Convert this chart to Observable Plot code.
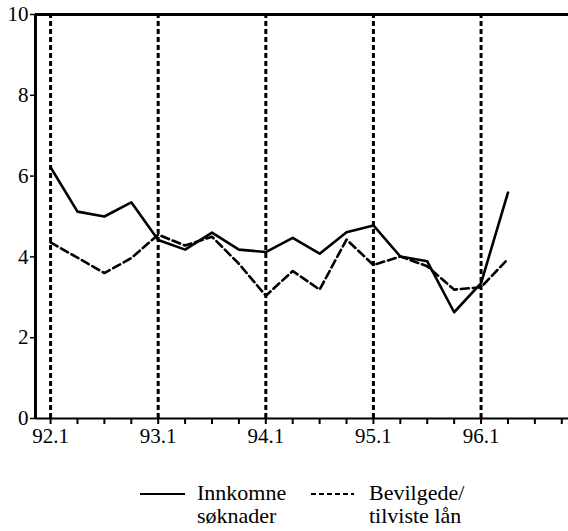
<!DOCTYPE html>
<html>
<head>
<meta charset="utf-8">
<script src="https://cdn.jsdelivr.net/npm/d3@7"></script>
<script src="https://cdn.jsdelivr.net/npm/@observablehq/plot@0.6"></script>
<style>
  html, body { margin: 0; padding: 0; background: #fff; }
  body { width: 568px; height: 531px; overflow: hidden; position: relative; font-family: "Liberation Serif", "DejaVu Serif", Times, serif; }
  svg text, svg g { font-family: "Liberation Serif", "DejaVu Serif", Times, serif !important; }
  #legend { position: absolute; left: 0; top: 455px; width: 568px; height: 76px; }
  .lg-text { position: absolute; font-family: "Liberation Serif", "DejaVu Serif", Times, serif; font-size: 22px; line-height: 23px; color: #000; white-space: nowrap; }
  .lg-line { position: absolute; }
</style>
</head>
<body>
<div id="chart"></div>
<div id="legend"></div>
<script>
// Quarter labels (92.1 .. 96.2)
const quarters = ["92.1","92.2","92.3","92.4","93.1","93.2","93.3","93.4","94.1","94.2","94.3","94.4","95.1","95.2","95.3","95.4","96.1","96.2"];
// Innkomne søknader (solid)
const innkomne = [6.22, 5.12, 5.0, 5.35, 4.42, 4.18, 4.6, 4.18, 4.12, 4.47, 4.08, 4.61, 4.78, 4.01, 3.89, 2.63, 3.35, 5.59];
// Bevilgede/tilviste lån (dashed)
const bevilgede = [4.36, 3.98, 3.6, 3.97, 4.55, 4.28, 4.5, 3.83, 3.04, 3.65, 3.19, 4.43, 3.8, 4.01, 3.77, 3.19, 3.25, 3.95];
// Axis tick labels
const yTicks = [0, 2, 4, 6, 8, 10];
const xTickLabels = ["92.1","92.2","92.3","92.4","93.1","93.2","93.3","93.4","94.1","94.2","94.3","94.4","95.1","95.2","95.3","95.4","96.1","96.2","96.3","96.4"];
const yearStarts = ["92.1","93.1","94.1","95.1","96.1"];
const legendLabels = [["Innkomne","søknader"],["Bevilgede/","tilviste lån"]];

const xDomain = [-0.56, 19.25];
const yearIdx = yearStarts.map(q => xTickLabels.indexOf(q));
const data1 = quarters.map((q, i) => ({i, v: innkomne[i]}));
const data2 = quarters.map((q, i) => ({i, v: bevilgede[i]}));
const serif = "'Liberation Serif', 'DejaVu Serif', Times, serif";

const chart = Plot.plot({
  width: 568,
  height: 455,
  marginLeft: 35,
  marginRight: 0,
  marginTop: 14,
  marginBottom: 37,
  style: { fontFamily: serif, fontSize: "20px", color: "#000", background: "#fff", overflow: "visible" },
  x: { domain: xDomain, range: [35, 568] },
  y: { domain: [0, 10] },
  marks: [
    Plot.ruleX(yearIdx, { y1: 0, y2: 10, stroke: "#000", strokeWidth: 3, strokeDasharray: "5,3" }),
    Plot.ruleY([0], { stroke: "#000", strokeWidth: 2 }),
    Plot.ruleY([10], { stroke: "#000", strokeWidth: 3 }),
    Plot.ruleX([xDomain[0]], { y1: 0, y2: 10, stroke: "#000", strokeWidth: 3 }),
    Plot.line(data2, { x: "i", y: "v", stroke: "#000", strokeWidth: 2.6, strokeDasharray: "8,4" }),
    Plot.line(data1, { x: "i", y: "v", stroke: "#000", strokeWidth: 2.6 }),
    Plot.axisY({ ticks: yTicks, tickSize: 5, tickPadding: 2, tickFormat: d => String(d), label: null, fontSize: 21, fontFamily: serif, stroke: "#000", strokeWidth: 1.5 }),
    Plot.axisX({ ticks: d3.range(xTickLabels.length), tickSize: 6, tickPadding: 4, tickFormat: i => (yearStarts.includes(xTickLabels[i]) ? xTickLabels[i] : ""), label: null, fontSize: 21, fontFamily: serif, stroke: "#000", strokeWidth: 2 })
  ]
});
document.getElementById("chart").appendChild(chart);

// Legend
const legend = document.getElementById("legend");
function addItem(x1, x2, ly, dash, tx, lines) {
  const ns = "http://www.w3.org/2000/svg";
  const svg = document.createElementNS(ns, "svg");
  svg.setAttribute("class", "lg-line");
  svg.setAttribute("width", x2 - x1);
  svg.setAttribute("height", 6);
  svg.style.left = x1 + "px";
  svg.style.top = (ly - 3) + "px";
  const line = document.createElementNS(ns, "line");
  line.setAttribute("x1", 0); line.setAttribute("x2", x2 - x1);
  line.setAttribute("y1", 3); line.setAttribute("y2", 3);
  line.setAttribute("stroke", "#000");
  line.setAttribute("stroke-width", 2.2);
  if (dash) line.setAttribute("stroke-dasharray", dash);
  svg.appendChild(line);
  legend.appendChild(svg);
  const t = document.createElement("div");
  t.className = "lg-text";
  t.style.left = tx + "px";
  t.style.top = "26px";
  t.innerHTML = lines[0] + "<br>" + lines[1];
  legend.appendChild(t);
}
addItem(140, 185, 39, null, 197, legendLabels[0]);
addItem(311, 354, 39, "5,3", 369, legendLabels[1]);
</script>
</body>
</html>
